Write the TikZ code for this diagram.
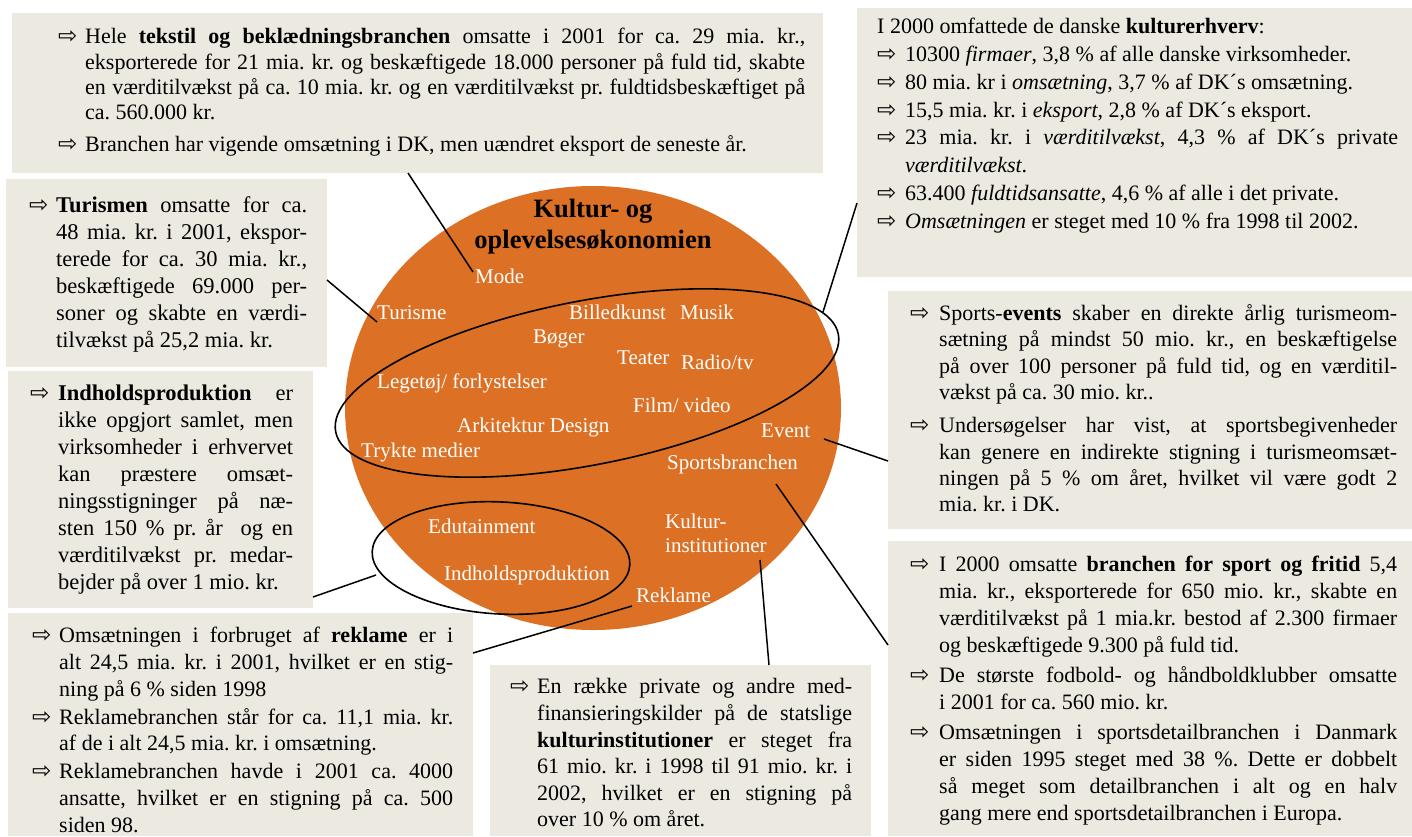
\documentclass[tikz,border=0pt]{standalone}
\usepackage{fontspec}
\setmainfont{Liberation Serif}
\newfontfamily\arrowfont{DejaVu Sans}
\definecolor{boxbg}{RGB}{236,234,224}
\definecolor{circ}{RGB}{220,112,36}
\newlength\bi
\newcommand\arrw{{\arrowfont\fontsize{23}{23}\selectfont ⇨}}
\newcommand\bul[1]{\hangindent=\bi\hangafter=1\noindent\strut\makebox[\bi][l]{\arrw}#1\par}
\hbadness=10000 \tolerance=10000
\frenchspacing
\tikzset{
  bg/.style={fill=boxbg, draw=none, inner sep=0pt, anchor=north west},
  txt/.style={anchor=north west, inner sep=0pt, align=justify},
  lab/.style={text=white, font=\fontsize{21}{25}\selectfont, anchor=base west, inner sep=0pt},
  ttl/.style={font=\fontsize{26.5}{31}\selectfont\bfseries, anchor=base, inner sep=0pt},
  conn/.style={draw=black, line width=1.5pt},
  ell/.style={draw=black, line width=1.6pt},
}
\begin{document}
\begin{tikzpicture}[x=1pt,y=-1pt]
\useasboundingbox (0,0) rectangle (1412,836);
% orange oval and inner ellipses
\fill[circ] (593,408) ellipse [x radius=248pt, y radius=222pt];
\draw[ell, rotate around={11:(587,383)}] (587,383) ellipse [x radius=256pt, y radius=82pt];
\draw[ell, rotate around={-3:(501,558)}] (501,558) ellipse [x radius=129pt, y radius=56pt];
% title
\node[ttl] (t1) at (593,217) {Kultur- og};
\node[ttl] (t2) at (593,248) {oplevelsesøkonomien};
% labels
\node[lab] (mode) at (475,283) {Mode};
\node[lab] (turisme) at (377,319) {Turisme};
\node[lab] (billed) at (569,319) {Billedkunst};
\node[lab] (musik) at (680,319) {Musik};
\node[lab] (boger) at (533,343) {Bøger};
\node[lab] (teater) at (617,364) {Teater};
\node[lab] (radio) at (681,369) {Radio/tv};
\node[lab] (lege) at (377,388) {Legetøj/ forlystelser};
\node[lab] (film) at (633,412) {Film/ video};
\node[lab] (ark) at (457,432) {Arkitektur Design};
\node[lab] (event) at (761,437) {Event};
\node[lab] (trykte) at (361,457) {Trykte medier};
\node[lab] (sport) at (667,469) {Sportsbranchen};
\node[lab] (edu) at (428,533) {Edutainment};
\node[lab] (kult1) at (665,528) {Kultur-};
\node[lab] (kult2) at (665,552) {institutioner};
\node[lab] (indh) at (444,580) {Indholdsproduktion};
\node[lab] (rekl) at (636,602) {Reklame};
% box backgrounds
\node[bg, minimum width=811pt, minimum height=160pt] (b1) at (12,13) {};
\node[bg, minimum width=555pt, minimum height=269pt] (b2) at (857,8) {};
\node[bg, minimum width=321pt, minimum height=188pt] (b3) at (6,179) {};
\node[bg, minimum width=305pt, minimum height=237pt] (b4) at (8,371) {};
\node[bg, minimum width=524pt, minimum height=238pt] (b5) at (888,291) {};
\node[bg, minimum width=524pt, minimum height=295pt] (b6) at (888,541) {};
\node[bg, minimum width=465pt, minimum height=223pt] (b7) at (8,613) {};
\node[bg, minimum width=381pt, minimum height=171pt] (b8) at (490,665) {};
% box texts
\node[txt, text width=747pt] (x1) at (58,26) {\fontsize{22}{25.3}\selectfont\setlength\bi{27pt}\parskip=6pt%
\bul{Hele \textbf{tekstil og beklædningsbranchen} omsatte i 2001 for ca. 29 mia. kr.,\linebreak eksporterede for 21 mia. kr. og beskæftigede 18.000 personer på fuld tid, skabte\linebreak en værditilvækst på ca. 10 mia. kr. og en værditilvækst pr. fuldtidsbeskæftiget på\linebreak ca. 560.000 kr.}%
\bul{Branchen har vigende omsætning i DK, men uændret eksport de seneste år.}};
\node[txt, text width=521pt] (x2) at (877,14) {\fontsize{22}{27.8}\selectfont\setlength\bi{28pt}\parskip=0pt%
\noindent\strut I 2000 omfattede de danske \textbf{kulturerhverv}:\par
\bul{10300 \textit{firmaer}, 3,8 \% af alle danske virksomheder.}%
\bul{80 mia. kr i \textit{omsætning}, 3,7 \% af DK´s omsætning.}%
\bul{15,5 mia. kr. i \textit{eksport}, 2,8 \% af DK´s eksport.}%
\bul{23 mia. kr. i \textit{værditilvækst}, 4,3 \% af DK´s private\linebreak \textit{værditilvækst}.}%
\bul{63.400 \textit{fuldtidsansatte}, 4,6 \% af alle i det private.}%
\bul{\textit{Omsætningen} er steget med 10 \% fra 1998 til 2002.}};
\node[txt, text width=278pt] (x3) at (29,193) {\fontsize{22.5}{27.1}\selectfont\setlength\bi{27pt}%
\bul{\textbf{Turismen} omsatte for ca.\linebreak 48 mia. kr. i 2001, ekspor-\linebreak terede for ca. 30 mia. kr.,\linebreak beskæftigede 69.000 per-\linebreak soner og skabte en værdi-\linebreak tilvækst på 25,2 mia. kr.}};
\node[txt, text width=263pt] (x4) at (30,381) {\fontsize{22.5}{27.1}\selectfont\setlength\bi{28pt}%
\bul{\textbf{Indholdsproduktion} er\linebreak ikke opgjort samlet, men\linebreak virksomheder i erhvervet\linebreak kan præstere omsæt-\linebreak ningsstigninger på næ-\linebreak sten 150 \% pr. år\ \ og en\linebreak værditilvækst pr. medar-\linebreak bejder på over 1 mio. kr.}};
\node[txt, text width=487pt] (x5) at (910,302) {\fontsize{22}{26.3}\selectfont\setlength\bi{29pt}\parskip=7pt%
\bul{Sports-\textbf{events} skaber en direkte årlig turismeom-\linebreak sætning på mindst 50 mio. kr., en beskæftigelse\linebreak på over 100 personer på fuld tid, og en værditil-\linebreak vækst på ca. 30 mio. kr..}%
\bul{Undersøgelser har vist, at sportsbegivenheder\linebreak kan genere en indirekte stigning i turismeomsæt-\linebreak ningen på 5 \% om året, hvilket vil være godt 2\linebreak mia. kr. i DK.}};
\node[txt, text width=487pt] (x6) at (910,552) {\fontsize{22}{27}\selectfont\setlength\bi{29pt}\parskip=3pt%
\bul{I 2000 omsatte \textbf{branchen for sport og fritid} 5,4\linebreak mia. kr., eksporterede for 650 mio. kr., skabte en\linebreak værditilvækst på 1 mia.kr. bestod af 2.300 firmaer\linebreak og beskæftigede 9.300 på fuld tid.}%
\bul{De største fodbold- og håndboldklubber omsatte\linebreak i 2001 for ca. 560 mio. kr.}%
\bul{Omsætningen i sportsdetailbranchen i Danmark\linebreak er siden 1995 steget med 38 \%. Dette er dobbelt\linebreak så meget som detailbranchen i alt og en halv\linebreak gang mere end sportsdetailbranchen i Europa.}};
\node[txt, text width=421pt] (x7) at (32,624) {\fontsize{22}{26.6}\selectfont\setlength\bi{27pt}\parskip=1.5pt%
\bul{Omsætningen i forbruget af \textbf{reklame} er i\linebreak alt 24,5 mia. kr. i 2001, hvilket er en stig-\linebreak ning på 6 \% siden 1998}%
\bul{Reklamebranchen står for ca. 11,1 mia. kr.\linebreak af de i alt 24,5 mia. kr. i omsætning.}%
\bul{Reklamebranchen havde i 2001 ca. 4000\linebreak ansatte, hvilket er en stigning på ca. 500\linebreak siden 98.}};
\node[txt, text width=342pt] (x8) at (510,675) {\fontsize{22}{26.6}\selectfont\setlength\bi{27pt}%
\bul{En række private og andre med-\linebreak finansieringskilder på de statslige\linebreak \textbf{kulturinstitutioner} er steget fra\linebreak 61 mio. kr. i 1998 til 91 mio. kr. i\linebreak 2002, hvilket er en stigning på\linebreak over 10 \% om året.}};
% connector end points
\coordinate (c1a) at (408,173); \coordinate (c1b) at (473,272);
\coordinate (c2a) at (327,280); \coordinate (c2b) at (377,322);
\coordinate (c3a) at (313,597); \coordinate (c3b) at (376,575);
\coordinate (c4a) at (632,606); \coordinate (c4b) at (473,653);
\coordinate (c5a) at (760,560); \coordinate (c5b) at (769,665);
\coordinate (c6a) at (776,484); \coordinate (c6b) at (888,645);
\coordinate (c7a) at (824,439); \coordinate (c7b) at (888,461);
\coordinate (c8a) at (823,312); \coordinate (c8b) at (857,203);
\draw[conn] (c1a) -- (c1b);
\draw[conn] (c2a) -- (c2b);
\draw[conn] (c3a) -- (c3b);
\draw[conn] (c4a) -- (c4b);
\draw[conn] (c5a) -- (c5b);
\draw[conn] (c6a) -- (c6b);
\draw[conn] (c7a) -- (c7b);
\draw[conn] (c8a) -- (c8b);
\end{tikzpicture}
\end{document}
